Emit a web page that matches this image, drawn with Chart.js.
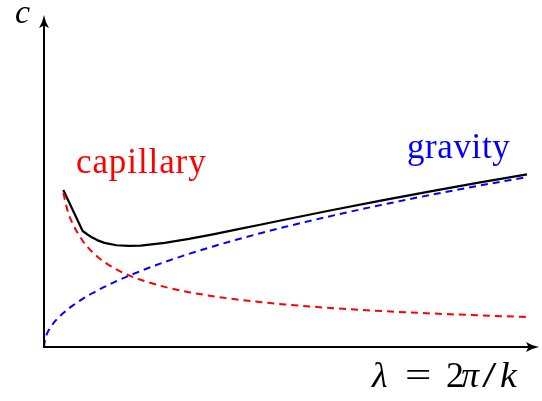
<!DOCTYPE html>
<html>
<head>
<meta charset="utf-8">
<script src="https://cdn.jsdelivr.net/npm/chart.js@4.4.1/dist/chart.umd.min.js"></script>
<style>
  html, body { margin: 0; padding: 0; background: #ffffff; }
  #wrap { width: 542px; height: 401px; }
</style>
</head>
<body>
<div id="wrap"><canvas id="chart" width="542" height="401"></canvas></div>
<script>
// Wavelength samples (arbitrary units)
const lambdaValues    = [0, 0.02, 0.05, 0.1, 0.2, 0.3, 0.4, 0.5, 0.6, 0.8, 0.9, 1, 1.1, 1.25, 1.5, 1.75, 2, 2.5, 3, 3.5, 4, 4.5, 5, 6, 7, 8, 9, 10];
// Gravity-wave phase speed
const gravityValues   = [0, 0.152, 0.240, 0.340, 0.481, 0.589, 0.680, 0.760, 0.833, 0.962, 1.020, 1.075, 1.127, 1.202, 1.317, 1.422, 1.520, 1.700, 1.862, 2.011, 2.150, 2.280, 2.404, 2.633, 2.844, 3.041, 3.225, 3.399];
// Capillary-wave phase speed
const capillaryValues = [null, null, null, null, null, null, 3.080, 2.687, 2.453, 2.124, 2.003, 1.900, 1.812, 1.699, 1.551, 1.436, 1.344, 1.202, 1.097, 1.016, 0.950, 0.896, 0.850, 0.776, 0.718, 0.672, 0.633, 0.601];
// Combined capillary-gravity phase speed (coarsely sampled near the start)
const totalValues     = [null, null, null, null, null, null, 3.140, null, null, 2.320, 2.250, 2.188, 2.138, 2.083, 2.035, 2.021, 2.029, 2.082, 2.161, 2.253, 2.351, 2.450, 2.550, 2.745, 2.933, 3.114, 3.287, 3.452];

const curveLabels = { capillary: 'capillary', gravity: 'gravity' };
const axisLabels = { y: 'c' };

const toPoints = ys => lambdaValues.map((x, i) => ({ x: x, y: ys[i] }));

const SERIF = '"Liberation Serif", "DejaVu Serif", serif';

function arrowHead(ctx, tipX, tipY, dx, dy) {
  // dx,dy: unit direction of the arrow
  const len = 13, half = 5, indent = 2.5;
  const px = -dy, py = dx;
  const bx = tipX - dx * len, by = tipY - dy * len;
  ctx.beginPath();
  ctx.moveTo(tipX, tipY);
  ctx.quadraticCurveTo(tipX - dx * len * 0.55 + px * 1.3, tipY - dy * len * 0.55 + py * 1.3, bx + px * half, by + py * half);
  ctx.lineTo(tipX - dx * (len - indent), tipY - dy * (len - indent));
  ctx.lineTo(bx - px * half, by - py * half);
  ctx.quadraticCurveTo(tipX - dx * len * 0.55 - px * 1.3, tipY - dy * len * 0.55 - py * 1.3, tipX, tipY);
  ctx.closePath();
  ctx.fill();
}

// Axes with arrow heads plus the text annotations
const annotate = {
  id: 'annotate',
  afterDatasetsDraw(chart) {
    const ctx = chart.ctx;
    const a = chart.chartArea;
    ctx.save();
    ctx.strokeStyle = '#000';
    ctx.fillStyle = '#000';
    ctx.lineWidth = 2;
    ctx.lineCap = 'butt';
    // y axis
    ctx.beginPath();
    ctx.moveTo(a.left, a.bottom + 1);
    ctx.lineTo(a.left, a.top + 10);
    ctx.stroke();
    // x axis
    ctx.beginPath();
    ctx.moveTo(a.left - 1, a.bottom);
    ctx.lineTo(a.right - 10, a.bottom);
    ctx.stroke();
    arrowHead(ctx, a.left, a.top, 0, -1);
    arrowHead(ctx, a.right, a.bottom, 1, 0);

    ctx.textBaseline = 'alphabetic';
    ctx.textAlign = 'left';
    // curve labels
    ctx.font = '35px ' + SERIF;
    ctx.fillStyle = '#ff0000';
    ctx.letterSpacing = '0.9px';
    ctx.fillText(curveLabels.capillary, a.left + 32, a.top + 158);
    ctx.fillStyle = '#0000ff';
    ctx.letterSpacing = '0.6px';
    ctx.fillText(curveLabels.gravity, a.left + 363, a.top + 143);
    ctx.letterSpacing = '0px';

    // y axis label
    ctx.fillStyle = '#000';
    ctx.font = 'italic 34px ' + SERIF;
    ctx.fillText(axisLabels.y, a.left - 29, a.top + 8);

    // x axis label: λ = 2π/k, math-style spacing
    const y = a.bottom + 40;
    const base = a.left + 328;
    const glyphs = [
      { t: 'λ', f: 'italic 36px ' + SERIF, dx: 0,   sx: 1 },
      { t: '=', f: '36px ' + SERIF,        dx: 33,  sx: 1.3 },
      { t: '2', f: '36px ' + SERIF,        dx: 74,  sx: 1 },
      { t: 'π', f: 'italic 36px ' + SERIF, dx: 89,  sx: 1 },
      { t: '/', f: '36px ' + SERIF,        dx: 110, sx: 1.45 },
      { t: 'k', f: 'italic 36px ' + SERIF, dx: 128, sx: 1.05 }
    ];
    glyphs.forEach(g => {
      ctx.save();
      ctx.font = g.f;
      ctx.translate(base + g.dx, y);
      ctx.scale(g.sx, 1);
      ctx.fillText(g.t, 0, 0);
      ctx.restore();
    });
    ctx.restore();
  }
};

new Chart(document.getElementById('chart'), {
  type: 'line',
  data: {
    datasets: [
      {
        label: 'gravity',
        data: toPoints(gravityValues),
        borderColor: '#0000ff',
        borderWidth: 2,
        borderDash: [7, 5],
        pointRadius: 0,
        cubicInterpolationMode: 'monotone',
        fill: false,
        clip: false
      },
      {
        label: 'capillary',
        data: toPoints(capillaryValues),
        borderColor: '#ff0000',
        borderWidth: 2,
        borderDash: [7, 5],
        pointRadius: 0,
        cubicInterpolationMode: 'monotone',
        fill: false,
        clip: false
      },
      {
        label: 'total',
        data: toPoints(totalValues),
        borderColor: '#000000',
        borderWidth: 2.2,
        pointRadius: 0,
        tension: 0,
        spanGaps: true,
        borderJoinStyle: 'round',
        fill: false,
        clip: false
      }
    ]
  },
  options: {
    responsive: false,
    animation: false,
    spanGaps: false,
    layout: { padding: { left: 44, right: 3, top: 15, bottom: 54 } },
    plugins: { legend: { display: false }, tooltip: { enabled: false } },
    scales: {
      x: { type: 'linear', display: false, min: 0, max: 10.248 },
      y: { type: 'linear', display: false, min: 0, max: 6.64 }
    }
  },
  plugins: [annotate]
});
</script>
</body>
</html>
